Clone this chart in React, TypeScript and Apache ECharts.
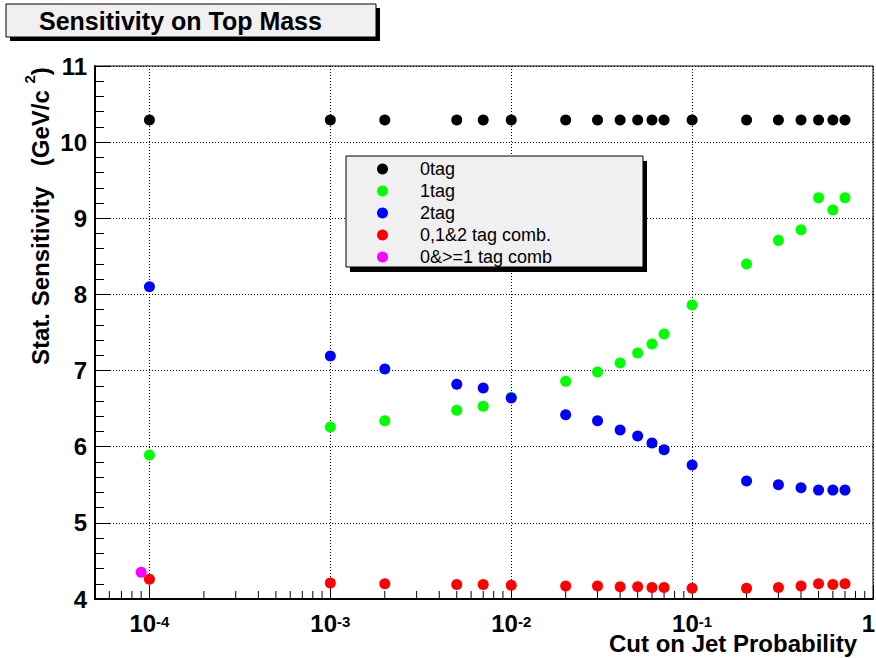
import React, { useEffect, useRef } from "react";
import * as echarts from "echarts";

// ---- data ----
const xCuts = [1e-4, 1e-3, 2e-3, 5e-3, 7e-3, 1e-2, 2e-2, 3e-2, 4e-2, 5e-2, 6e-2, 7e-2, 0.1, 0.2, 0.3, 0.4, 0.5, 0.6, 0.7];
const tag0 = [10.29, 10.29, 10.29, 10.29, 10.29, 10.29, 10.29, 10.29, 10.29, 10.29, 10.29, 10.29, 10.29, 10.29, 10.29, 10.29, 10.29, 10.29, 10.29];
const tag1 = [5.89, 6.26, 6.34, 6.48, 6.53, 6.65, 6.86, 6.98, 7.10, 7.23, 7.35, 7.48, 7.86, 8.40, 8.71, 8.85, 9.27, 9.11, 9.27];
const tag2 = [8.10, 7.19, 7.02, 6.82, 6.77, 6.64, 6.42, 6.34, 6.22, 6.14, 6.05, 5.96, 5.76, 5.55, 5.50, 5.46, 5.43, 5.43, 5.43];
const comb012 = [4.26, 4.21, 4.20, 4.19, 4.19, 4.18, 4.17, 4.17, 4.16, 4.16, 4.15, 4.15, 4.14, 4.14, 4.15, 4.17, 4.20, 4.19, 4.20];
const comb0ge1X = [9e-5];
const comb0ge1 = [4.35];

const seriesNames = ["0tag", "1tag", "2tag", "0,1&2 tag comb.", "0&>=1 tag comb"];
const seriesColors = ["#000000", "#00ff00", "#0000ff", "#ff0000", "#ff00ff"];

const yTicks = { min: 4, max: 11, interval: 1 };
const xRange = { min: 5e-5, max: 1 };
const minorMultipliers = [2, 3, 4, 5, 6, 7, 8, 9];
const minorDecades = [1e-5, 1e-4, 1e-3, 1e-2, 1e-1];
const xMinorTicks: number[] = [];
minorDecades.forEach((d) => minorMultipliers.forEach((m) => {
  const v = m * d;
  if (v > xRange.min * 1.0001 && v < xRange.max) xMinorTicks.push(v);
}));

const FONT = "'Liberation Sans', Arial, Helvetica, sans-serif";

export default function App() {
  const ref = useRef<HTMLDivElement>(null);
  useEffect(() => {
    if (!ref.current) return;
    const chart = echarts.init(ref.current, null, { renderer: "svg" });
    const pts = (ys: number[], xs: number[] = xCuts) => xs.map((x, i) => [x, ys[i]]);
    const scatter = (name: string, color: string, data: number[][], z: number) => ({
      type: "scatter",
      name,
      data,
      symbol: "circle",
      symbolSize: 11,
      z,
      itemStyle: { color, opacity: 1 },
      emphasis: { disabled: true },
    });
    chart.setOption({
      animation: false,
      backgroundColor: "#ffffff",
      grid: {
        left: 95, right: 3, top: 66, bottom: 59,
        containLabel: false, outerBoundsMode: "none",
        show: true, borderColor: "#000", borderWidth: 1, backgroundColor: "transparent",
      },
      xAxis: {
        type: "log",
        logBase: 10,
        min: xRange.min,
        max: xRange.max,
        axisLine: { show: true, lineStyle: { color: "#000", width: 2 } },
        axisTick: { show: true, inside: true, length: 14, lineStyle: { color: "#000", width: 1 } },
        splitLine: { show: true, lineStyle: { color: "#000", width: 1, type: [1, 2] } },
        axisLabel: {
          margin: 15,
          hideOverlap: false,
          formatter: (v: number) => {
            const e = Math.log10(v);
            const r = Math.round(e);
            if (Math.abs(e - r) > 1e-6) return "";
            if (r === 0) return "{one|1}";
            return "{b|10}{s|" + r + "}";
          },
          rich: {
            b: { fontSize: 24, fontWeight: "bold", fontFamily: FONT, color: "#000", lineHeight: 18 },
            one: { fontSize: 24, fontWeight: "bold", fontFamily: FONT, color: "#000", lineHeight: 18, width: 4, align: "right" },
            s: { fontSize: 15, fontWeight: "bold", fontFamily: FONT, color: "#000", lineHeight: 2, verticalAlign: "top" },
          },
        },
      },
      yAxis: {
        type: "value",
        min: yTicks.min,
        max: yTicks.max,
        interval: yTicks.interval,
        axisLine: { show: true, lineStyle: { color: "#000", width: 2 } },
        axisTick: { show: true, inside: true, length: 15, lineStyle: { color: "#000", width: 1 } },
        minorTick: { show: true, splitNumber: 5, length: 9, lineStyle: { color: "#000", width: 1 } },
        splitLine: { show: true, lineStyle: { color: "#000", width: 1, type: [1, 2] } },
        axisLabel: { margin: 8, fontSize: 24, fontWeight: "bold", fontFamily: FONT, color: "#000" },
      },
      legend: {
        show: true,
        data: seriesNames,
        orient: "vertical",
        left: 377,
        top: 158,
        padding: 0,
        itemGap: 0,
        itemWidth: 11,
        itemHeight: 11,
        icon: "circle",
        selectedMode: false,
        textStyle: { fontSize: 18, fontFamily: FONT, color: "#000", lineHeight: 22, padding: [0, 0, 0, 27] },
      },
      graphic: [
        { type: "rect", shape: { x: 10, y: 8, width: 370, height: 33 }, style: { fill: "#000" }, z: 1 },
        { type: "rect", shape: { x: 6, y: 4, width: 370, height: 33 }, style: { fill: "#f0f0f0", stroke: "#000", lineWidth: 1 }, z: 2 },
        { type: "text", x: 39, y: 21, style: { text: "Sensitivity on Top Mass", fontSize: 25, fontWeight: "bold", fontFamily: FONT, fill: "#000", verticalAlign: "middle", align: "left" }, z: 3 },
        { type: "rect", shape: { x: 350, y: 161, width: 297, height: 111 }, style: { fill: "#000" }, z: 1 },
        { type: "rect", shape: { x: 346, y: 156, width: 297, height: 111 }, style: { fill: "#f0f0f0", stroke: "#000", lineWidth: 1 }, z: 2 },
        {
          type: "text", x: 857, y: 643,
          style: { text: "Cut on Jet Probability", fontSize: 24, lineHeight: 18, fontWeight: "bold", fontFamily: FONT, fill: "#000", align: "right", verticalAlign: "middle" },
          z: 3,
        },
        {
          type: "text", x: 40, y: 365, rotation: Math.PI / 2,
          style: {
            text: "{a|Stat. Sensitivity   (GeV/c }{s|2}{a|)}",
            align: "left", verticalAlign: "middle",
            rich: {
              a: { fontSize: 24, fontWeight: "bold", fontFamily: FONT, fill: "#000", lineHeight: 36 },
              s: { fontSize: 15, fontWeight: "bold", fontFamily: FONT, fill: "#000", lineHeight: 16, verticalAlign: "top" },
            },
          },
          z: 3,
        },
      ],
      series: [
        {
          type: "custom",
          name: "minorTicks",
          silent: true,
          z: 1,
          data: xMinorTicks.map((v) => [v, yTicks.min]),
          renderItem: (params: any, api: any) => {
            const p = api.coord([api.value(0), api.value(1)]);
            return {
              type: "line",
              shape: { x1: p[0], y1: p[1], x2: p[0], y2: p[1] - 8 },
              style: { stroke: "#000", lineWidth: 1 },
            };
          },
        },
        scatter(seriesNames[0], seriesColors[0], pts(tag0), 3),
        scatter(seriesNames[1], seriesColors[1], pts(tag1), 3),
        scatter(seriesNames[2], seriesColors[2], pts(tag2), 3),
        scatter(seriesNames[4], seriesColors[4], pts(comb0ge1, comb0ge1X), 3),
        scatter(seriesNames[3], seriesColors[3], pts(comb012), 3),
      ],
    });
    return () => chart.dispose();
  }, []);
  return <div ref={ref} style={{ position: "fixed", left: 0, top: 0, width: 876, height: 658 }} />;
}
